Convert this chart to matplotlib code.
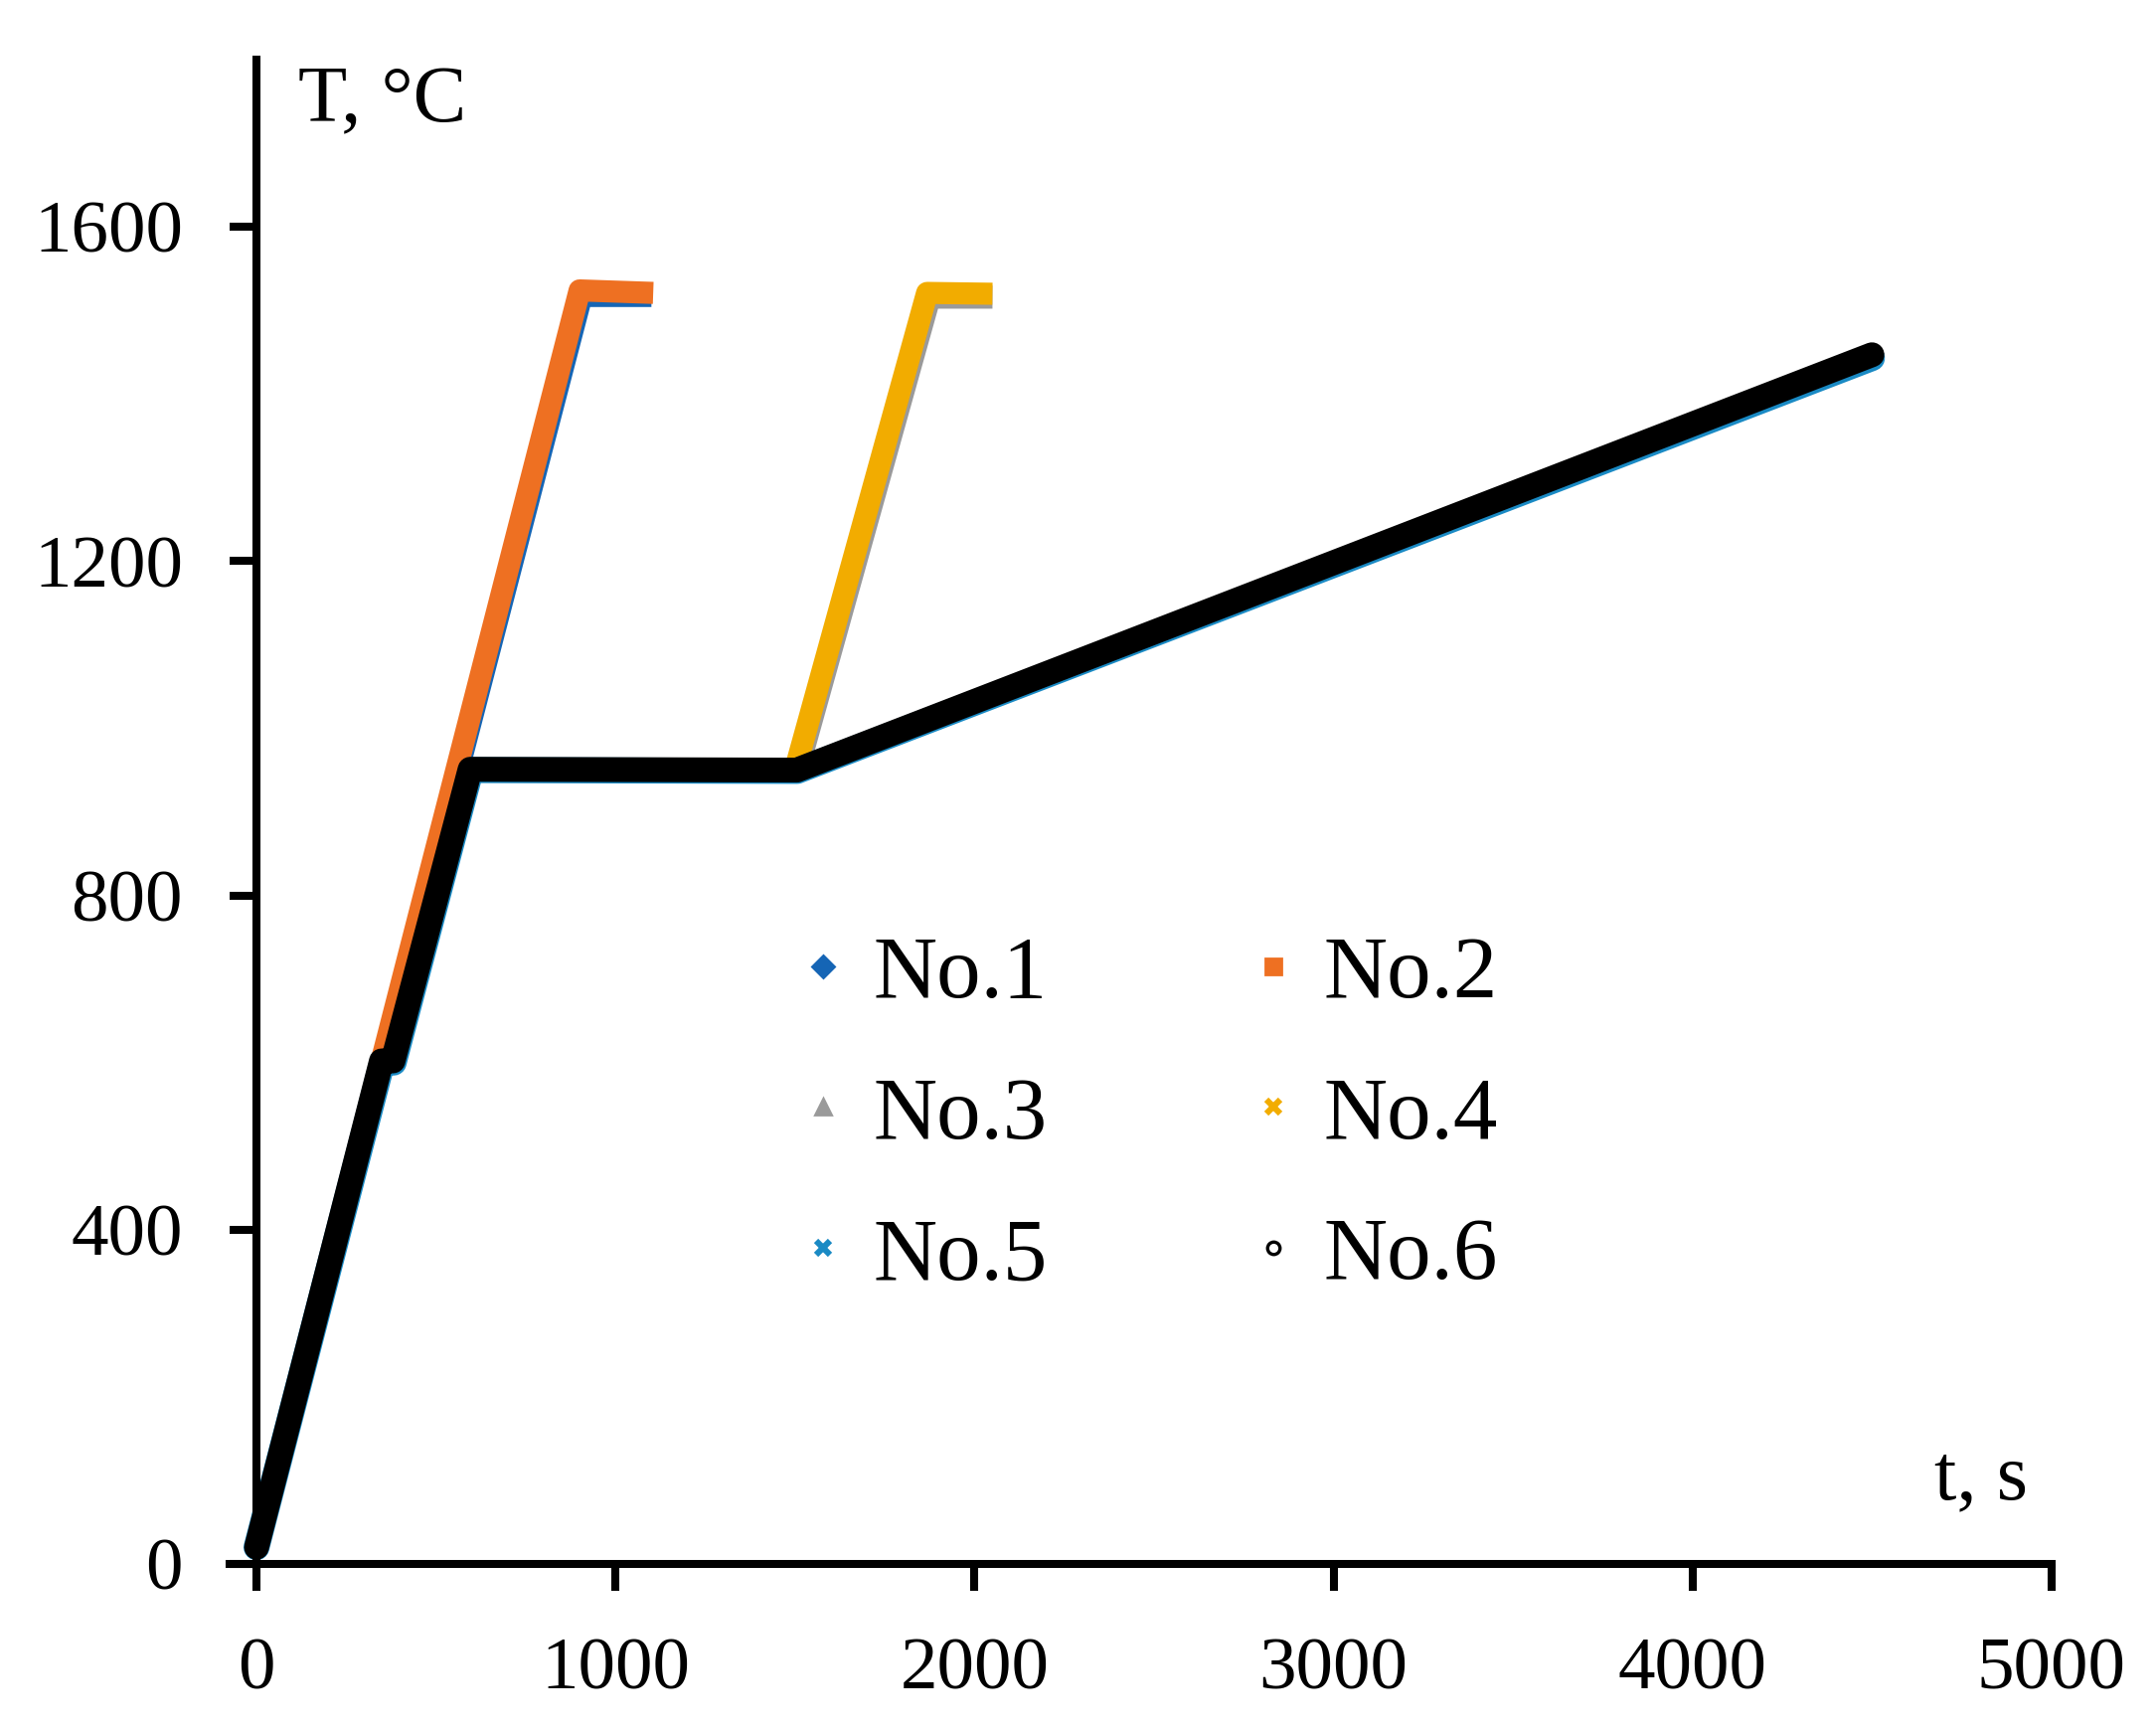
import matplotlib
matplotlib.use("Agg")
import matplotlib.pyplot as plt
from matplotlib.lines import Line2D

plt.rcParams['font.family'] = ['Liberation Serif', 'DejaVu Serif']

# heating schedules (time in s, temperature in deg C)
t1 = [0, 906, 1100]
T1 = [20, 1517, 1517]
t2 = [0, 900, 1105]
T2 = [20, 1524, 1521]
t3 = [0, 348, 380, 595, 1505, 1874, 2050]
T3 = [20, 600, 600, 950, 948, 1516, 1516]
t4 = [0, 348, 380, 595, 1500, 1868, 2050]
T4 = [20, 600, 600, 950, 950, 1521, 1520]
t5 = [0, 350, 382, 597, 1506, 4500]
T5 = [20, 600, 600, 950, 949, 1443]
t6 = [0, 348, 380, 595, 1505, 4500]
T6 = [20, 602, 602, 951, 950, 1447]

names = ['No.1', 'No.2', 'No.3', 'No.4', 'No.5', 'No.6']
colors = ['#1565b5', '#ee7022', '#9a9a9a', '#f2ac00', '#1a8ac4', '#000000']
markers = ['D', 's', '^', 'x', 'x', 'o']

x_ticks = [0, 1000, 2000, 3000, 4000, 5000]
y_ticks = [0, 400, 800, 1200, 1600]

fig = plt.figure(figsize=(10.845, 8.71), dpi=200)
ax = fig.add_axes([0.1065, 0.097, 0.845, 0.8685])

series = [(t1, T1), (t2, T2), (t3, T3), (t4, T4), (t5, T5), (t6, T6)]
widths = [7.8, 8.0, 8.4, 8.0, 9.4, 9.0]
for (t, T), c, w, n in zip(series, colors, widths, names):
    cap = 'round' if n in ('No.5', 'No.6') else 'butt'
    ax.plot(t, T, color=c, lw=w, solid_capstyle=cap, solid_joinstyle='round', label=n)

ax.set_xlim(-75, 5000)
ax.set_ylim(0, 1800)
ax.set_xticks(x_ticks)
ax.set_yticks(y_ticks)
ax.spines['top'].set_visible(False)
ax.spines['right'].set_visible(False)
ax.spines['left'].set_position(('data', 0))
for s in ('left', 'bottom'):
    ax.spines[s].set_linewidth(2.9)
ax.tick_params(direction='out', length=9.7, width=2.9, labelsize=27, pad=17)

fig.text(0.1383, 0.930, 'T, °C', fontsize=29, va='baseline', ha='left')
fig.text(0.9405, 0.1349, 't, s', fontsize=29, va='baseline', ha='right')

handles = []
for c, m, n in zip(colors, markers, names):
    if m == 'o':
        h = Line2D([], [], ls='none', marker='o', markersize=4.5, markerfacecolor='white',
                   markeredgecolor=c, markeredgewidth=1.2)
    elif m == 'x':
        h = Line2D([], [], ls='none', marker='x', markersize=5, color=c, markeredgewidth=2.2)
    else:
        h = Line2D([], [], ls='none', marker=m, markersize=5.5, color=c)
    handles.append(h)
order = [0, 2, 4, 1, 3, 5]
ax.legend([handles[i] for i in order], [names[i] for i in order], ncol=2,
          loc='center', bbox_to_anchor=(0.532, 0.3554), bbox_transform=fig.transFigure,
          frameon=False, fontsize=32, handlelength=0.6, handletextpad=0.27,
          columnspacing=2.25, labelspacing=0.68)

fig.savefig('out.png', dpi=200)
